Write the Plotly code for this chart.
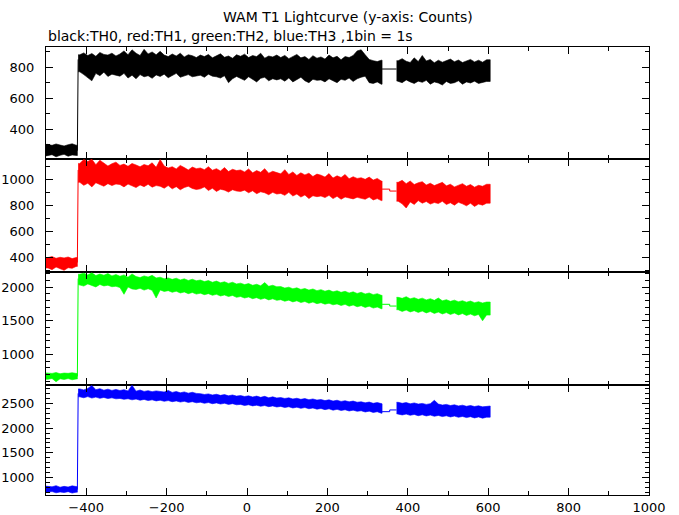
import plotly.graph_objects as go
from plotly.subplots import make_subplots

# ---- time grid (seconds, 10-s bin centres) ----
pre_t = list(range(-495, -424, 10))     # pre-burst bins
burst_t = list(range(-416, 335, 10))    # burst bins
post_t = list(range(376, 597, 10))      # after data gap
pre_span = [-500, -422]
burst_span = [-420, 336]
post_span = [372, 605]
spike_t = [-422, -421, -420]
gap_t = [336, 355, 355, 372]

# ---- TH0 (black) : per-bin upper / lower envelope of counts ----
TH0_pre_hi = [302, 296, 305, 298, 292, 300, 306, 297]
TH0_pre_lo = [228, 236, 222, 232, 238, 226, 234, 230]
TH0_hi = [880, 892, 875, 888, 870, 895, 882, 878, 890, 872,
          885, 905, 880, 912, 890, 875, 915, 885, 898, 880,
          902, 878, 868, 885, 872, 890, 866, 880, 874, 862,
          878, 868, 882, 860, 875, 886, 864, 872, 858, 880,
          870, 884, 862, 875, 868, 890, 858, 872, 866, 878,
          862, 876, 855, 870, 882, 860, 868, 850, 874, 858,
          866, 852, 878, 860, 870, 848, 868, 862, 875, 905,
          912, 880, 850, 842, 836, 845]
TH0_lo = [770, 752, 735, 712, 760, 745, 768, 740, 755, 748,
          742, 760, 730, 748, 725, 752, 738, 745, 728, 750,
          740, 755, 732, 748, 760, 735, 745, 752, 738, 742,
          748, 735, 755, 742, 738, 730, 745, 700, 725, 740,
          730, 715, 738, 722, 705, 728, 735, 712, 725, 718,
          725, 710, 730, 705, 720, 735, 712, 700, 722, 715,
          718, 705, 725, 710, 700, 722, 715, 730, 708, 725,
          735, 742, 700, 695, 705, 690]
TH0_post_hi = [842, 855, 838, 830, 860, 836, 875, 840, 850, 828, 845, 832,
               840, 852, 835, 846, 830, 842, 850, 834, 845, 832, 848]
TH0_post_lo = [712, 700, 718, 705, 695, 710, 702, 715, 690, 705, 698, 685,
               708, 695, 700, 712, 690, 705, 698, 710, 695, 702, 708]
TH0_spike = [262, 503, 850]
TH0_gap = [788, 788, 788, 788]

# ---- TH1 (red) ----
TH1_pre_hi = [398, 405, 392, 400, 395, 402, 390, 398]
TH1_pre_lo = [318, 305, 325, 312, 300, 320, 315, 330]
TH1_hi = [1120, 1150, 1135, 1152, 1110, 1145, 1125, 1100, 1118, 1130,
          1105, 1115, 1098, 1120, 1108, 1095, 1112, 1102, 1125, 1090,
          1150, 1100, 1085, 1095, 1078, 1105, 1088, 1070, 1092, 1080,
          1085, 1072, 1095, 1068, 1080, 1062, 1088, 1058, 1075, 1065,
          1070, 1055, 1078, 1048, 1065, 1052, 1080, 1045, 1060, 1050,
          1040, 1072, 1035, 1055, 1028, 1048, 1032, 1045, 1020, 1038,
          1030, 1015, 1042, 1008, 1025, 1012, 1035, 1002, 1018, 1005,
          1010, 998, 1015, 992, 1005, 985]
TH1_lo = [975, 952, 968, 940, 972, 958, 945, 965, 950, 962,
          958, 940, 962, 948, 935, 955, 942, 960, 938, 950,
          945, 930, 950, 925, 942, 918, 935, 945, 928, 920,
          925, 940, 912, 930, 905, 922, 915, 900, 918, 908,
          905, 915, 895, 910, 888, 902, 895, 880, 898, 885,
          890, 875, 898, 870, 885, 862, 878, 850, 872, 865,
          870, 858, 875, 850, 868, 845, 862, 855, 848, 860,
          852, 845, 862, 840, 850, 835]
TH1_post_hi = [975, 990, 965, 985, 958, 972, 980, 955, 968, 950, 962, 975,
               948, 960, 940, 955, 965, 945, 958, 938, 952, 945, 960]
TH1_post_lo = [830, 810, 778, 825, 805, 835, 815, 828, 808, 820, 812, 830,
               805, 818, 800, 822, 810, 795, 815, 790, 808, 800, 815]
TH1_spike = [360, 640, 1070]
TH1_gap = [923, 923, 908, 908]

# ---- TH2 (green) ----
TH2_pre_hi = [722, 715, 728, 710, 720, 716, 725, 712]
TH2_pre_lo = [628, 640, 590, 635, 625, 638, 620, 632]
TH2_hi = [2195, 2210, 2185, 2215, 2175, 2198, 2180, 2205, 2170, 2190,
          2165, 2185, 2150, 2200, 2160, 2145, 2170, 2152, 2178, 2140,
          2150, 2128, 2140, 2118, 2135, 2110, 2126, 2102, 2120, 2098,
          2108, 2085, 2100, 2075, 2092, 2068, 2082, 2058, 2075, 2050,
          2062, 2040, 2055, 2030, 2045, 2022, 2070, 2015, 2030, 2008,
          2010, 1988, 2002, 1978, 1992, 1968, 1982, 1958, 1975, 1950,
          1965, 1942, 1958, 1932, 1948, 1925, 1940, 1915, 1932, 1908,
          1925, 1900, 1915, 1890, 1905, 1880]
TH2_lo = [2040, 2018, 2050, 2025, 2005, 2042, 2020, 2030, 2008, 2015,
          1995, 1895, 2005, 1975, 1968, 1985, 1958, 1978, 1955, 1840,
          1960, 1938, 1950, 1925, 1942, 1915, 1930, 1905, 1922, 1898,
          1912, 1890, 1905, 1880, 1895, 1870, 1885, 1862, 1878, 1850,
          1862, 1840, 1855, 1830, 1845, 1820, 1838, 1812, 1828, 1805,
          1815, 1792, 1808, 1782, 1798, 1772, 1788, 1762, 1780, 1755,
          1770, 1748, 1762, 1738, 1752, 1728, 1745, 1718, 1735, 1710,
          1725, 1700, 1718, 1690, 1705, 1680]
TH2_post_hi = [1850, 1835, 1860, 1828, 1845, 1820, 1838, 1812, 1830, 1805, 1840, 1798,
               1815, 1790, 1808, 1785, 1800, 1778, 1795, 1770, 1785, 1765, 1780]
TH2_post_lo = [1665, 1640, 1660, 1632, 1650, 1625, 1645, 1618, 1638, 1610, 1630, 1602,
               1622, 1595, 1615, 1588, 1608, 1580, 1600, 1575, 1595, 1500, 1585]
TH2_spike = [670, 1170, 2130]
TH2_gap = [1746, 1746, 1720, 1720]

# ---- TH3 (blue) ----
TH3_pre_hi = [830, 815, 840, 808, 825, 812, 835, 818]
TH3_pre_lo = [705, 720, 695, 712, 700, 718, 690, 708]
TH3_hi = [2790, 2770, 2800, 2860, 2775, 2795, 2765, 2785, 2760, 2780,
          2758, 2775, 2750, 2865, 2745, 2768, 2740, 2755, 2735, 2750,
          2745, 2728, 2760, 2720, 2738, 2712, 2730, 2705, 2722, 2700,
          2695, 2678, 2690, 2668, 2682, 2660, 2675, 2652, 2668, 2645,
          2655, 2638, 2650, 2628, 2645, 2620, 2640, 2612, 2630, 2608,
          2615, 2598, 2610, 2588, 2602, 2580, 2595, 2572, 2588, 2565,
          2575, 2555, 2570, 2545, 2562, 2538, 2552, 2530, 2545, 2522,
          2530, 2510, 2525, 2500, 2515, 2490]
TH3_lo = [2630, 2612, 2635, 2605, 2625, 2600, 2618, 2595, 2610, 2590,
          2598, 2580, 2592, 2570, 2585, 2562, 2578, 2555, 2570, 2548,
          2562, 2540, 2555, 2532, 2548, 2525, 2540, 2518, 2532, 2510,
          2522, 2500, 2515, 2492, 2508, 2485, 2500, 2478, 2492, 2470,
          2478, 2455, 2470, 2448, 2462, 2440, 2455, 2432, 2448, 2425,
          2438, 2415, 2430, 2405, 2422, 2398, 2415, 2390, 2405, 2382,
          2395, 2372, 2388, 2362, 2378, 2355, 2370, 2345, 2362, 2338,
          2350, 2325, 2342, 2315, 2330, 2300]
TH3_post_hi = [2520, 2500, 2515, 2490, 2508, 2485, 2498, 2478, 2492, 2560, 2485, 2465,
               2478, 2455, 2470, 2448, 2462, 2440, 2455, 2435, 2450, 2428, 2445]
TH3_post_lo = [2290, 2265, 2282, 2258, 2275, 2250, 2268, 2245, 2262, 2238, 2255, 2232,
               2248, 2225, 2242, 2218, 2235, 2212, 2230, 2205, 2225, 2200, 2220]
TH3_spike = [760, 1420, 2700]
TH3_gap = [2331, 2331, 2366, 2366]

channels = [
    ("TH0", "#000000", TH0_pre_hi, TH0_pre_lo, TH0_hi, TH0_lo, TH0_post_hi, TH0_post_lo, TH0_spike, TH0_gap),
    ("TH1", "#ff0000", TH1_pre_hi, TH1_pre_lo, TH1_hi, TH1_lo, TH1_post_hi, TH1_post_lo, TH1_spike, TH1_gap),
    ("TH2", "#00ff00", TH2_pre_hi, TH2_pre_lo, TH2_hi, TH2_lo, TH2_post_hi, TH2_post_lo, TH2_spike, TH2_gap),
    ("TH3", "#0000ff", TH3_pre_hi, TH3_pre_lo, TH3_hi, TH3_lo, TH3_post_hi, TH3_post_lo, TH3_spike, TH3_gap),
]

y_ranges = [[208, 930], [287, 1154], [542, 2228], [651, 2869]]
y_dticks = [200, 200, 500, 500]

fig = make_subplots(rows=4, cols=1, shared_xaxes=True, vertical_spacing=0,
                    row_heights=[112, 113, 113, 110])


def band(tc, hi, lo, span):
    x = [span[0]] + tc + [span[1], span[1]] + tc[::-1] + [span[0]]
    y = [hi[0]] + hi + [hi[-1], lo[-1]] + lo[::-1] + [lo[0]]
    return x, y


for i, (name, col, phi, plo, bhi, blo, qhi, qlo, spk, gap) in enumerate(channels):
    row = i + 1
    for tc, hi, lo, span in [(pre_t, phi, plo, pre_span),
                             (burst_t, bhi, blo, burst_span),
                             (post_t, qhi, qlo, post_span)]:
        x, y = band(tc, hi, lo, span)
        fig.add_trace(go.Scatter(x=x, y=y, mode="lines", fill="toself",
                                 fillcolor=col, line=dict(color=col, width=0.6),
                                 showlegend=False, hoverinfo="skip", name=name),
                      row=row, col=1)
    fig.add_trace(go.Scatter(x=spike_t, y=spk, mode="lines",
                             line=dict(color=col, width=1), showlegend=False),
                  row=row, col=1)
    fig.add_trace(go.Scatter(x=gap_t, y=gap, mode="lines",
                             line=dict(color=col, width=1), showlegend=False),
                  row=row, col=1)

FAM = "DejaVu Sans, Verdana, sans-serif"
font = dict(family=FAM, size=13, color="black")

fig.update_xaxes(range=[-500, 1000], tick0=0, dtick=200, ticks="inside", ticklen=7,
                 tickwidth=1, tickcolor="black", showline=True, linecolor="black",
                 linewidth=1.2, mirror="ticks", showgrid=False, zeroline=False,
                 minor=dict(dtick=100, ticklen=4, tickcolor="black", ticks="inside"),
                 tickfont=font, automargin=False, ticklabelstandoff=0)

for i in range(4):
    fig.update_yaxes(range=y_ranges[i], tick0=0, dtick=y_dticks[i], ticks="inside",
                     ticklen=7, tickwidth=1, tickcolor="black", showline=True,
                     linecolor="black", linewidth=1.2, mirror="ticks", showgrid=False,
                     zeroline=False,
                     minor=dict(dtick=100, ticklen=4, tickcolor="black", ticks="inside"),
                     tickfont=font, automargin=False, ticklabelstandoff=8,
                     row=i + 1, col=1)

fig.add_annotation(text="WAM T1 Lightcurve (y-axis: Counts)", xref="paper", yref="paper",
                   x=0.5, y=1, yshift=30, xanchor="center", yanchor="middle",
                   showarrow=False, font=dict(family=FAM, size=14, color="black"))
fig.add_annotation(text="black:TH0, red:TH1, green:TH2, blue:TH3 ,1bin = 1s",
                   xref="paper", yref="paper", x=0, y=1, yshift=11, xanchor="left",
                   yanchor="middle", showarrow=False,
                   font=dict(family=FAM, size=14, color="black"))

fig.update_layout(width=679, height=515, margin=dict(l=46, r=30, t=47, b=20),
                  plot_bgcolor="white", paper_bgcolor="white", showlegend=False)

# remove the browser's default 8px body margin so the figure fills the window
fig.write_html("out.html", config={"displayModeBar": False},
               post_script="document.body.style.margin='0px';document.body.style.overflow='hidden';")
